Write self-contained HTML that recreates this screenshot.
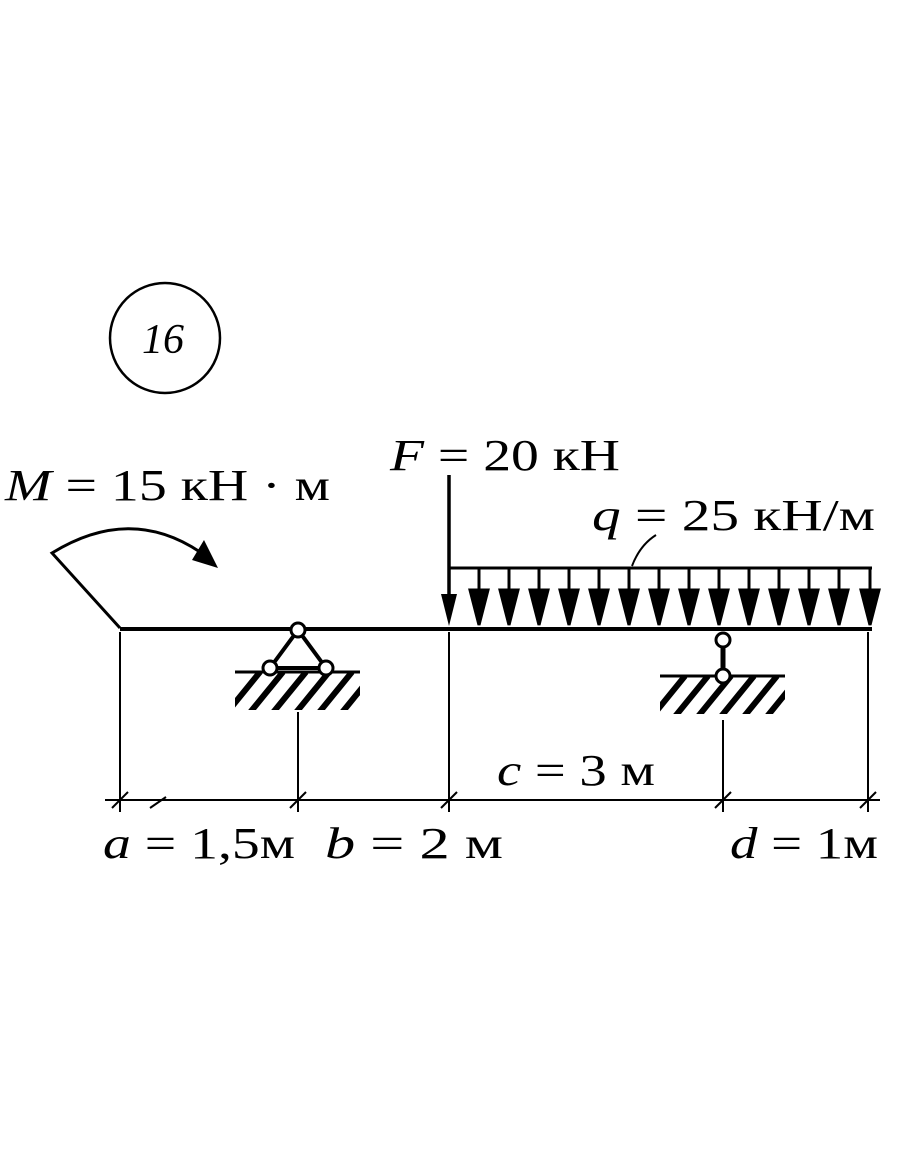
<!DOCTYPE html>
<html><head><meta charset="utf-8"><style>
html,body{margin:0;padding:0;background:#fff;}
svg text{font-family:"Liberation Serif",serif;fill:#000;}
</style></head><body>
<svg width="910" height="1155" viewBox="0 0 910 1155" xmlns="http://www.w3.org/2000/svg">
<defs>
<clipPath id="c1"><rect x="235" y="672" width="125" height="38"/></clipPath>
<clipPath id="c2"><rect x="660" y="676" width="125" height="38"/></clipPath>
</defs>
<circle cx="165" cy="338" r="55" fill="none" stroke="#000" stroke-width="2.5"/>
<text x="142" y="353" font-size="42" font-style="italic">16</text>

<text x="5" y="500" font-size="44" textLength="325" lengthAdjust="spacingAndGlyphs"><tspan font-style="italic">M</tspan> = 15 кН · м</text>
<text x="390" y="470" font-size="44" textLength="230" lengthAdjust="spacingAndGlyphs"><tspan font-style="italic">F</tspan> = 20 кН</text>
<text x="592" y="530" font-size="44" textLength="283" lengthAdjust="spacingAndGlyphs"><tspan font-style="italic">q</tspan> = 25 кН/м</text>
<path d="M632,566 Q640,545 656,535" fill="none" stroke="#000" stroke-width="2"/>

<path d="M120,628 L52,553 Q130,505 200,552" fill="none" stroke="#000" stroke-width="3"/>
<path d="M218,568 L192,560 L204,540 Z" fill="#000"/>

<line x1="120" y1="629" x2="872" y2="629" stroke="#000" stroke-width="4"/>

<line x1="449" y1="475" x2="449" y2="600" stroke="#000" stroke-width="3.5"/>
<path d="M441,594 L457,594 L449,626 Z" fill="#000"/>

<line x1="449" y1="568" x2="872" y2="568" stroke="#000" stroke-width="3"/>
<g stroke="#000" stroke-width="3" fill="#000">
<line x1="479" y1="568" x2="479" y2="600"/><path d="M470,590 L488,590 L479,625Z"/>
<line x1="509" y1="568" x2="509" y2="600"/><path d="M500,590 L518,590 L509,625Z"/>
<line x1="539" y1="568" x2="539" y2="600"/><path d="M530,590 L548,590 L539,625Z"/>
<line x1="569" y1="568" x2="569" y2="600"/><path d="M560,590 L578,590 L569,625Z"/>
<line x1="599" y1="568" x2="599" y2="600"/><path d="M590,590 L608,590 L599,625Z"/>
<line x1="629" y1="568" x2="629" y2="600"/><path d="M620,590 L638,590 L629,625Z"/>
<line x1="659" y1="568" x2="659" y2="600"/><path d="M650,590 L668,590 L659,625Z"/>
<line x1="689" y1="568" x2="689" y2="600"/><path d="M680,590 L698,590 L689,625Z"/>
<line x1="719" y1="568" x2="719" y2="600"/><path d="M710,590 L728,590 L719,625Z"/>
<line x1="749" y1="568" x2="749" y2="600"/><path d="M740,590 L758,590 L749,625Z"/>
<line x1="779" y1="568" x2="779" y2="600"/><path d="M770,590 L788,590 L779,625Z"/>
<line x1="809" y1="568" x2="809" y2="600"/><path d="M800,590 L818,590 L809,625Z"/>
<line x1="839" y1="568" x2="839" y2="600"/><path d="M830,590 L848,590 L839,625Z"/>
<line x1="870" y1="568" x2="870" y2="600"/><path d="M861,590 L879,590 L870,625Z"/>
</g>

<path d="M298,630 L270,668 L326,668 Z" fill="none" stroke="#000" stroke-width="4"/>
<line x1="235" y1="672" x2="360" y2="672" stroke="#000" stroke-width="3"/>
<g clip-path="url(#c1)" stroke="#000" stroke-width="6">
<line x1="225" y1="715" x2="260" y2="672"/><line x1="248" y1="715" x2="283" y2="672"/>
<line x1="271" y1="715" x2="306" y2="672"/><line x1="294" y1="715" x2="329" y2="672"/>
<line x1="317" y1="715" x2="352" y2="672"/><line x1="340" y1="715" x2="375" y2="672"/>
</g>
<circle cx="298" cy="630" r="7" fill="#fff" stroke="#000" stroke-width="3"/>
<circle cx="270" cy="668" r="7" fill="#fff" stroke="#000" stroke-width="3"/>
<circle cx="326" cy="668" r="7" fill="#fff" stroke="#000" stroke-width="3"/>

<line x1="723" y1="640" x2="723" y2="676" stroke="#000" stroke-width="5"/>
<line x1="660" y1="676" x2="785" y2="676" stroke="#000" stroke-width="3"/>
<g clip-path="url(#c2)" stroke="#000" stroke-width="6">
<line x1="650" y1="719" x2="685" y2="676"/><line x1="673" y1="719" x2="708" y2="676"/>
<line x1="696" y1="719" x2="731" y2="676"/><line x1="719" y1="719" x2="754" y2="676"/>
<line x1="742" y1="719" x2="777" y2="676"/><line x1="765" y1="719" x2="800" y2="676"/>
</g>
<circle cx="723" cy="640" r="7" fill="#fff" stroke="#000" stroke-width="3"/>
<circle cx="723" cy="676" r="7" fill="#fff" stroke="#000" stroke-width="3"/>

<g stroke="#000" stroke-width="2">
<line x1="120" y1="632" x2="120" y2="812"/>
<line x1="298" y1="712" x2="298" y2="812"/>
<line x1="449" y1="632" x2="449" y2="812"/>
<line x1="723" y1="720" x2="723" y2="812"/>
<line x1="868" y1="632" x2="868" y2="812"/>
<line x1="105" y1="800" x2="880" y2="800"/>
<line x1="112" y1="808" x2="128" y2="792"/>
<line x1="290" y1="808" x2="306" y2="792"/>
<line x1="441" y1="808" x2="457" y2="792"/>
<line x1="715" y1="808" x2="731" y2="792"/>
<line x1="860" y1="808" x2="876" y2="792"/>
<line x1="150" y1="808" x2="166" y2="797"/>
</g>
<text x="103" y="858" font-size="44" textLength="192" lengthAdjust="spacingAndGlyphs"><tspan font-style="italic">a</tspan> = 1,5м</text>
<text x="325" y="858" font-size="44" textLength="178" lengthAdjust="spacingAndGlyphs"><tspan font-style="italic">b</tspan> = 2 м</text>
<text x="497" y="785" font-size="44" textLength="158" lengthAdjust="spacingAndGlyphs"><tspan font-style="italic">c</tspan> = 3 м</text>
<text x="730" y="858" font-size="44" textLength="148" lengthAdjust="spacingAndGlyphs"><tspan font-style="italic">d</tspan> = 1м</text>
</svg>
</body></html>
